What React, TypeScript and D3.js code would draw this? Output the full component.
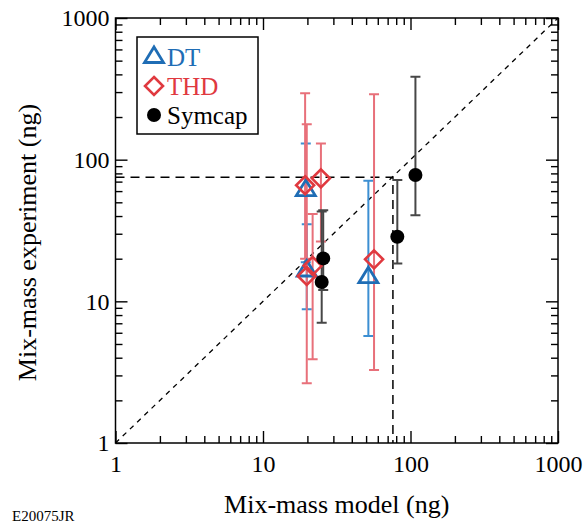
import React, { useEffect, useRef } from 'react';
import * as d3 from 'd3';

// DT (triangles)
const dtModel = [19.5, 19.8, 51.8];
const dtExp = [61, 16.5, 14.8];
const dtLow = [18.9, 8.8, 5.7];
const dtHigh = [130, 35, 71];

// THD (diamonds)
const thdModel = [19.3, 19.8, 21.7, 24.7, 56.6];
const thdExp = [66, 15.1, 17.8, 73.8, 19.8];
const thdLow = [20, 2.64, 3.9, 26.4, 3.27];
const thdHigh = [294, 178, 41.3, 130, 290];

// Symcap (filled circles)
const symModel = [25.6, 25, 81.4, 108];
const symExp = [20.1, 13.7, 28.6, 77.9];
const symLow = [12, 7.06, 18.5, 40.6];
const symHigh = [44, 43, 72, 385];

const majorTicks = [1, 10, 100, 1000];
const majorLabels = ['1', '10', '100', '1000'];
const thresholdModel = 76;
const thresholdExp = 75;

const legendNames = ['DT', 'THD', 'Symcap'];

const FONT = 'Liberation Serif, Times New Roman, DejaVu Serif, serif';
const BLUE = '#1f6db5';
const BLUE_BAR = '#3c8fd2';
const RED = '#e0393f';
const RED_BAR = '#e8707a';
const BLACK_BAR = '#474747';

function App() {
  const ref = useRef(null);

  useEffect(() => {
    const width = 588;
    const height = 525;
    const left = 115.5, right = 558, top = 18, bottom = 443;

    d3.select(ref.current).selectAll('*').remove();
    const svg = d3
      .select(ref.current)
      .append('svg')
      .attr('width', width)
      .attr('height', height)
      .attr('font-family', FONT)
      .style('position', 'absolute')
      .style('left', 0)
      .style('top', 0);

    svg.append('rect').attr('width', width).attr('height', height).attr('fill', '#fff');

    const x = d3.scaleLog().domain([1, 1000]).range([left, right]);
    const y = d3.scaleLog().domain([1, 1000]).range([bottom, top]);

    const minorTicks: number[] = [];
    [1, 10, 100].forEach((d) => {
      for (let k = 2; k <= 9; k++) minorTicks.push(k * d);
    });

    const fmt = (d: number) => majorLabels[majorTicks.indexOf(d)] ?? '';
    const none = () => '';

    // axes on all four sides, ticks pointing inward
    const addAxis = (axis: any, transform: string) => {
      const g = svg.append('g').attr('transform', transform).call(axis);
      g.attr('font-family', FONT).attr('font-size', 24);
      g.select('.domain').remove();
      g.selectAll('line').attr('stroke', '#000').attr('stroke-width', 1.4);
      g.selectAll('text').attr('font-family', FONT).attr('font-size', 24).attr('fill', '#000');
      return g;
    };
    addAxis(d3.axisBottom(x).tickValues(minorTicks).tickSize(-7).tickFormat(none), `translate(0,${bottom})`);
    addAxis(d3.axisBottom(x).tickValues(majorTicks).tickSize(-12).tickPadding(11.5).tickFormat(fmt), `translate(0,${bottom})`);
    addAxis(d3.axisTop(x).tickValues(minorTicks).tickSize(-7).tickFormat(none), `translate(0,${top})`);
    addAxis(d3.axisTop(x).tickValues(majorTicks).tickSize(-12).tickFormat(none), `translate(0,${top})`);
    addAxis(d3.axisLeft(y).tickValues(minorTicks).tickSize(-7).tickFormat(none), `translate(${left},0)`);
    addAxis(d3.axisLeft(y).tickValues(majorTicks).tickSize(-12).tickPadding(6).tickFormat(fmt), `translate(${left},0)`);
    addAxis(d3.axisRight(y).tickValues(minorTicks).tickSize(-7).tickFormat(none), `translate(${right},0)`);
    addAxis(d3.axisRight(y).tickValues(majorTicks).tickSize(-12).tickFormat(none), `translate(${right},0)`);

    // frame
    svg
      .append('rect')
      .attr('x', left)
      .attr('y', top)
      .attr('width', right - left)
      .attr('height', bottom - top)
      .attr('fill', 'none')
      .attr('stroke', '#000')
      .attr('stroke-width', 1.5);

    // y = x line
    svg
      .append('line')
      .attr('x1', x(1)).attr('y1', y(1))
      .attr('x2', x(1000)).attr('y2', y(1000))
      .attr('stroke', '#000')
      .attr('stroke-width', 1.3)
      .attr('stroke-dasharray', '5,5');

    // threshold lines
    svg
      .append('path')
      .attr('d', `M${x(1)},${y(thresholdExp)}H${x(thresholdModel)}V${y(1)}`)
      .attr('fill', 'none')
      .attr('stroke', '#000')
      .attr('stroke-width', 1.5)
      .attr('stroke-dasharray', '9,6');

    const series = [
      { xs: dtModel, ys: dtExp, lo: dtLow, hi: dtHigh, bar: BLUE_BAR },
      { xs: thdModel, ys: thdExp, lo: thdLow, hi: thdHigh, bar: RED_BAR },
      { xs: symModel, ys: symExp, lo: symLow, hi: symHigh, bar: BLACK_BAR },
    ];

    // error bars
    series.forEach((s) => {
      const g = svg.append('g').attr('stroke', s.bar).attr('stroke-width', 2).attr('fill', 'none');
      s.xs.forEach((xv, i) => {
        const cx = x(xv);
        g.append('path').attr(
          'd',
          `M${cx},${y(s.lo[i])}V${y(s.hi[i])}M${cx - 5},${y(s.lo[i])}h10M${cx - 5},${y(s.hi[i])}h10`
        );
      });
    });

    const triangle = 'M0,-10L9.5,5.5L-9.5,5.5Z';
    const diamond = 'M0,-9L9,0L0,9L-9,0Z';

    const drawTri = (g: any, cx: number, cy: number) =>
      g.append('path').attr('d', triangle).attr('transform', `translate(${cx},${cy})`)
        .attr('fill', 'none').attr('stroke', BLUE).attr('stroke-width', 2.8).attr('stroke-linejoin', 'miter');
    const drawDia = (g: any, cx: number, cy: number) =>
      g.append('path').attr('d', diamond).attr('transform', `translate(${cx},${cy})`)
        .attr('fill', 'none').attr('stroke', RED).attr('stroke-width', 2.6);
    const drawDot = (g: any, cx: number, cy: number) =>
      g.append('circle').attr('cx', cx).attr('cy', cy).attr('r', 7).attr('fill', '#000');

    const marks = svg.append('g');
    dtModel.forEach((v, i) => drawTri(marks, x(v), y(dtExp[i])));
    thdModel.forEach((v, i) => drawDia(marks, x(v), y(thdExp[i])));
    symModel.forEach((v, i) => drawDot(marks, x(v), y(symExp[i])));

    // legend
    const lg = svg.append('g');
    lg.append('rect')
      .attr('x', 137).attr('y', 37).attr('width', 121).attr('height', 97)
      .attr('fill', '#fff').attr('stroke', '#000').attr('stroke-width', 1.5);
    const legendColors = [BLUE, RED, '#000'];
    const legendDraw = [drawTri, drawDia, drawDot];
    legendNames.forEach((name, i) => {
      const cy = 57 + i * 29;
      legendDraw[i](lg, 154, cy);
      lg.append('text')
        .attr('x', 167)
        .attr('y', cy + 8.5)
        .attr('font-family', FONT)
        .attr('font-size', 25)
        .attr('fill', legendColors[i])
        .text(name);
    });

    // axis titles
    svg
      .append('text')
      .attr('x', (left + right) / 2)
      .attr('y', 513)
      .attr('text-anchor', 'middle')
      .attr('font-family', FONT)
      .attr('font-size', 26)
      .text('Mix-mass model (ng)');
    svg
      .append('text')
      .attr('transform', `translate(36,${(top + bottom) / 2 + 12}) rotate(-90)`)
      .attr('text-anchor', 'middle')
      .attr('font-family', FONT)
      .attr('font-size', 26)
      .text('Mix-mass experiment (ng)');

    svg
      .append('text')
      .attr('x', 12)
      .attr('y', 521)
      .attr('font-family', FONT)
      .attr('font-size', 15)
      .text('E20075JR');
  }, []);

  return <div ref={ref}></div>;
}

export default App;
